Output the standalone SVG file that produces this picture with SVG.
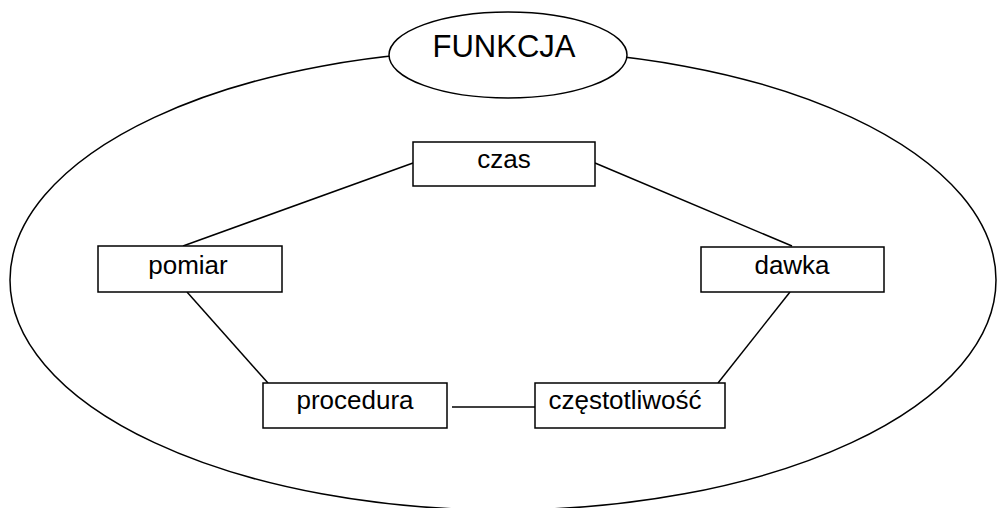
<svg xmlns="http://www.w3.org/2000/svg" width="997" height="508" viewBox="0 0 997 508">
<style>
.shape{fill:#fff;stroke:#000;stroke-width:1.5}
.big{fill:none;stroke:#000;stroke-width:1.5}
.conn line{stroke:#000;stroke-width:1.5}
text{font-family:"Liberation Sans",Arial,sans-serif;font-size:26px;fill:#000;text-anchor:middle}
.title{font-size:31px}
</style>
<rect width="997" height="508" fill="#fff"/>
<ellipse class="big" cx="503" cy="280" rx="493" ry="230"/>
<g id="funkcja">
<ellipse class="shape" cx="508" cy="55" rx="119" ry="43"/>
<text class="title" x="504" y="57">FUNKCJA</text>
</g>
<g class="conn" id="connectors">
<line x1="413" y1="163" x2="183" y2="246"/>
<line x1="595" y1="163" x2="792" y2="246"/>
<line x1="187" y1="292" x2="268" y2="383"/>
<line x1="790" y1="292" x2="718" y2="383"/>
<line x1="452" y1="407" x2="535" y2="407"/>
</g>
<g id="czas">
<rect class="shape" x="413" y="142" width="182" height="44"/>
<text x="504" y="168">czas</text>
</g>
<g id="pomiar">
<rect class="shape" x="98" y="246" width="184" height="46"/>
<text x="188" y="274">pomiar</text>
</g>
<g id="dawka">
<rect class="shape" x="701" y="247" width="183" height="45"/>
<text x="792" y="274">dawka</text>
</g>
<g id="procedura">
<rect class="shape" x="263" y="383" width="184" height="45"/>
<text x="355" y="409">procedura</text>
</g>
<g id="czestotliwosc">
<rect class="shape" x="535" y="383" width="190" height="45"/>
<text x="625" y="409">częstotliwość</text>
</g>
</svg>
